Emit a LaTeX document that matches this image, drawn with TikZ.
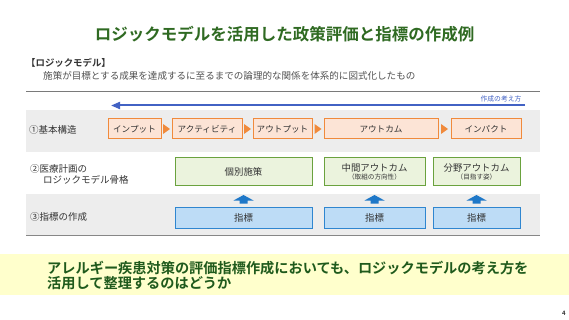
\documentclass[tikz,border=0pt]{standalone}
\usepackage{fontspec}
\setmainfont{Noto Sans CJK JP}[BoldFont={Noto Sans CJK JP Bold}]
\usetikzlibrary{arrows.meta,calc}
\definecolor{titlegreen}{HTML}{2F6A22}
\definecolor{msggreen}{HTML}{1F5A1C}
\definecolor{bandgray}{HTML}{EDEDED}
\definecolor{linegray}{HTML}{7A7A7A}
\definecolor{txtdark}{HTML}{333333}
\definecolor{arrowblue}{HTML}{4262C4}
\definecolor{orfill}{HTML}{FCE4D6}
\definecolor{ordraw}{HTML}{F08A3C}
\definecolor{grfill}{HTML}{EBF3DD}
\definecolor{grdraw}{HTML}{6AA23E}
\definecolor{blfill}{HTML}{BDDCF6}
\definecolor{bldraw}{HTML}{2F86D0}
\definecolor{upblue}{HTML}{1F78C8}
\definecolor{msgyellow}{HTML}{FFFFCC}
\tikzset{
  fs/.style={font=\fontsize{#1}{#1}\selectfont},
  orbox/.style={draw=ordraw, fill=orfill, line width=1pt, minimum height=20pt, inner sep=0pt, text=txtdark, fs=8.6},
  grbox/.style={draw=grdraw, fill=grfill, line width=1pt, minimum height=28pt, inner sep=0pt, text=txtdark, fs=9.4, align=center},
  blbox/.style={draw=bldraw, fill=blfill, line width=1pt, minimum height=21pt, inner sep=0pt, text=txtdark, fs=9.4},
  rowlabel/.style={anchor=west, inner sep=0pt, text=txtdark, fs=9.5, align=left},
  band/.style={fill=bandgray, draw=none},
}
\begin{document}
\begin{tikzpicture}[x=1pt,y=-1pt]
\useasboundingbox[fill=white] (0,0) rectangle (569,320);
% title
\node[text=titlegreen, font=\bfseries\fontsize{16.5}{16.5}\selectfont] (title) at (284.5,34) {ロジックモデルを活用した政策評価と指標の作成例};
\node[anchor=west, inner sep=0pt, text=txtdark, font=\bfseries\fontsize{9.4}{9.4}\selectfont] (lmhead) at (26,63) {【ロジックモデル】};
\node[anchor=west, inner sep=0pt, text=txtdark!85, fs=9.55] (lmdef) at (43,76) {施策が目標とする成果を達成するに至るまでの論理的な関係を体系的に図式化したもの};
% top line
\coordinate (tl1) at (26,91);
\coordinate (tl2) at (540,91);
\draw[linegray, line width=0.9pt] (tl1) -- (tl2);
% bands
\fill[band] (26,110) rectangle (540,152);
\fill[band] (26,194) rectangle (540,235);
\coordinate (bl1) at (26,235.5);
\coordinate (bl2) at (540,235.5);
\draw[linegray!90, line width=1.6pt] (bl1) -- (bl2);
% direction arrow
\node[fs=6.8, text=arrowblue, inner sep=0pt] (howto) at (501,99) {作成の考え方};
\coordinate (da1) at (525,105.5);
\coordinate (da2) at (111,105.5);
\draw[arrowblue, line width=2pt, -{Triangle[length=9pt,width=7pt]}] (da1) -- (da2);
% row labels
\node[rowlabel] (r1) at (29,130) {①基本構造};
\node[rowlabel] (r2) at (30,169) {②医療計画の};
\node[rowlabel] (r2b) at (43,179.5) {ロジックモデル骨格};
\node[rowlabel] (r3) at (30,217) {③指標の作成};
% row 1 boxes
\node[orbox, minimum width=53pt] (b1) at (134.5,129) {インプット};
\node[orbox, minimum width=70pt] (b2) at (207,129) {アクティビティ};
\node[orbox, minimum width=59pt] (b3) at (282.5,129) {アウトプット};
\node[orbox, minimum width=114pt] (b4) at (381,129) {アウトカム};
\node[orbox, minimum width=70pt] (b5) at (486,129) {インパクト};
\foreach \a/\b in {b1/b2,b2/b3,b3/b4,b4/b5}{
  \coordinate (m\a) at ($(\a.east)!0.5!(\b.west)$);
  \fill[ordraw] ($(m\a)+(-3.5,-5)$) -- ($(m\a)+(3.5,0)$) -- ($(m\a)+(-3.5,5)$) -- cycle;
}
% row 2 boxes
\node[grbox, minimum width=137pt] (g1) at (243.5,172) {個別施策};
\node[grbox, minimum width=101pt] (g2) at (374.5,172) {中間アウトカム\\[-1pt]{\fontsize{6.6}{6.6}\selectfont （取組の方向性）}};
\node[grbox, minimum width=87pt] (g3) at (476.5,172) {分野アウトカム\\[-1pt]{\fontsize{6.6}{6.6}\selectfont （目指す姿）}};
% row 3 boxes
\node[blbox, minimum width=137pt] (i1) at (243.5,217.5) {指標};
\node[blbox, minimum width=101pt] (i2) at (374.5,217.5) {指標};
\node[blbox, minimum width=87pt] (i3) at (476.5,217.5) {指標};
% up arrows
\foreach \i/\g in {i1/g1,i2/g2,i3/g3}{
  \coordinate (u\i) at ($(\i.north)+(0,-3)$);
  \fill[upblue] ($(u\i)+(-4,0)$) -- ($(u\i)+(-4,-3)$) -- ($(u\i)+(-10,-3)$) -- ($(u\i)+(0,-8.5)$) -- ($(u\i)+(10,-3)$) -- ($(u\i)+(4,-3)$) -- ($(u\i)+(4,0)$) -- cycle;
}
% message band
\fill[msgyellow] (0,254) rectangle (569,295);
\node[anchor=west, inner sep=0pt, text=msggreen, font=\bfseries\fontsize{14.2}{14.2}\selectfont] (msg1) at (47,268) {アレルギー疾患対策の評価指標作成においても、ロジックモデルの考え方を};
\node[anchor=west, inner sep=0pt, text=msggreen, font=\bfseries\fontsize{14.2}{14.2}\selectfont] (msg2) at (47,283.5) {活用して整理するのはどうか};
% page number
\node[inner sep=0pt, text=txtdark, font=\bfseries\fontsize{6}{6}\selectfont] (pg) at (564,313) {4};
\end{tikzpicture}
\end{document}
